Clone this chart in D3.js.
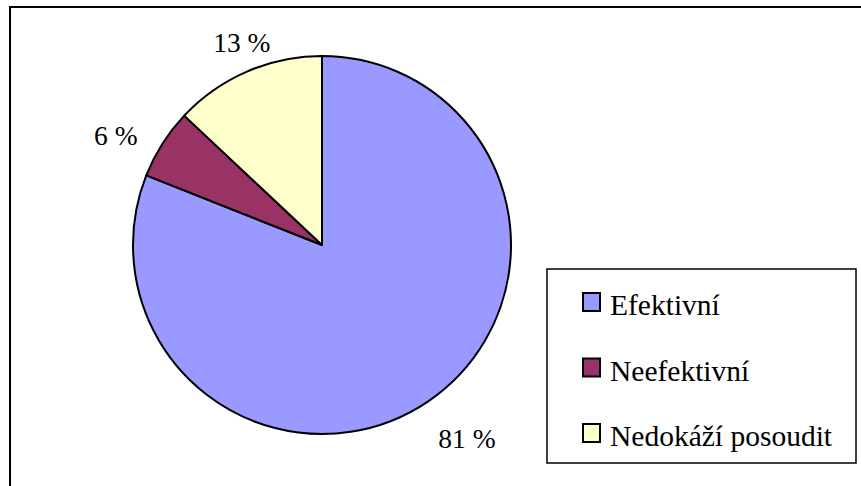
<!DOCTYPE html>
<html>
<head>
<meta charset="utf-8">
<script src="https://cdn.jsdelivr.net/npm/d3@7"></script>
<style>
  html, body { margin: 0; padding: 0; background: #fff; }
  svg { display: block; }
</style>
</head>
<body>
<svg id="chart" width="861" height="486"></svg>
<script>
// Survey answers and their shares (percent)
const categories = ["Efektivní", "Neefektivní", "Nedokáží posoudit"];
const values = [81, 6, 13];
const valueLabels = ["81 %", "6 %", "13 %"];
const colors = ["#9999FF", "#993366", "#FFFFCC"];

const FONT = "'Liberation Serif'";
const svg = d3.select("#chart");

// Outer chart frame (open to the right and bottom)
svg.append("path")
  .attr("d", "M10,487 L10,7 L862,7")
  .attr("fill", "none")
  .attr("stroke", "#000")
  .attr("stroke-width", 2);

// Pie
const cx = 322, cy = 245, r = 189;
const pie = d3.pie().sort(null).value(d => d)(values);
const arc = d3.arc().innerRadius(0).outerRadius(r);

const g = svg.append("g").attr("transform", `translate(${cx},${cy})`);
g.selectAll("path.slice")
  .data(pie)
  .join("path")
  .attr("class", "slice")
  .attr("d", arc)
  .attr("fill", (d, i) => colors[i])
  .attr("stroke", "#000")
  .attr("stroke-width", 2)
  .attr("stroke-linejoin", "round");

// Percentage labels outside the slices, nudged off the rim
const labelSize = 27.5;
const labelArc = d3.arc().innerRadius(r + 28).outerRadius(r + 28);
const labelNudge = [[23, 14], [-23, 7], [6, -3]];
g.selectAll("text.val")
  .data(pie)
  .join("text")
  .attr("class", "val")
  .attr("x", (d, i) => labelArc.centroid(d)[0] + labelNudge[i][0])
  .attr("y", (d, i) => labelArc.centroid(d)[1] + labelNudge[i][1] + labelSize * 0.33)
  .attr("text-anchor", "middle")
  .attr("font-family", FONT)
  .attr("font-size", labelSize)
  .attr("fill", "#000")
  .text((d, i) => valueLabels[i]);

// Legend
const legend = svg.append("g");
legend.append("rect")
  .attr("x", 547).attr("y", 269)
  .attr("width", 309).attr("height", 194)
  .attr("fill", "#fff")
  .attr("stroke", "#000")
  .attr("stroke-width", 1.5);

const rowY = d3.scalePoint().domain(categories).range([302, 433]);
const items = legend.selectAll("g.item")
  .data(categories)
  .join("g")
  .attr("class", "item")
  .attr("transform", d => `translate(0,${rowY(d)})`);

items.append("rect")
  .attr("x", 583).attr("y", -9)
  .attr("width", 17).attr("height", 18)
  .attr("fill", (d, i) => colors[i])
  .attr("stroke", "#000")
  .attr("stroke-width", 2);

items.append("text")
  .attr("x", 610).attr("y", 13)
  .attr("font-family", FONT)
  .attr("font-size", 29.5)
  .attr("fill", "#000")
  .text(d => d);
</script>
</body>
</html>
